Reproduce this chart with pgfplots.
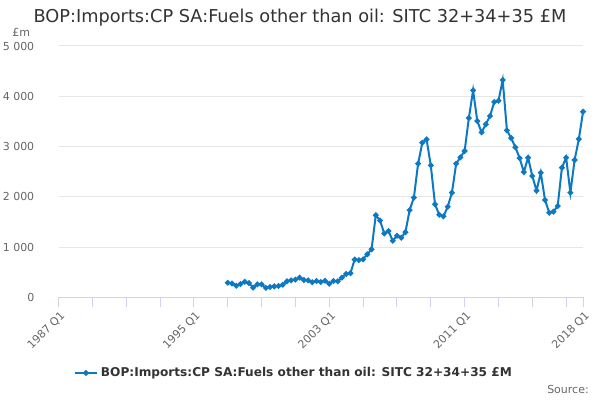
\documentclass[border=0pt]{standalone}
\usepackage{fontspec}
\setmainfont{DejaVu Sans}
\usepackage{pgfplots}
\pgfplotsset{compat=1.18}
\definecolor{lineblue}{RGB}{12,121,194}
\definecolor{gridgray}{HTML}{E6E6E6}
\definecolor{axisblue}{HTML}{CCD6EB}
\definecolor{labgray}{HTML}{666666}
\definecolor{titlegray}{HTML}{333333}
\begin{document}
\begin{tikzpicture}
\path[use as bounding box] (0,0) rectangle (450pt,300pt);
\begin{axis}[
  at={(43.9pt,77.0pt)}, anchor=south west,
  scale only axis, width=393.4pt, height=188.5pt,
  xmin=1987, xmax=2018, ymin=0, ymax=5000,
  axis lines*=left,
  y axis line style={draw=none},
  x axis line style={color=axisblue, line width=0.75pt},
  xtick={1987,1995,2003,2011,2018},
  xticklabels={1987 Q1,1995 Q1,2003 Q1,2011 Q1,2018 Q1},
  minor xtick={1989,1991,1993,1997,1999,2001,2005,2007,2009,2013,2015,2017},
  xtick style={color=axisblue, line width=0.75pt},
  minor x tick style={color=axisblue, line width=0.75pt},
  tick align=outside, major tick length=7.5pt, minor tick length=7.5pt,
  xticklabel style={rotate=45, anchor=north east, font=\fontsize{8.25}{10}\selectfont, text=labgray, inner sep=1pt, yshift=-1pt},
  ytick={0,1000,...,5000},
  yticklabels={0,1 000,2 000,3 000,4 000,5 000},
  ytick style={draw=none},
  yticklabel style={font=\fontsize{8.25}{10}\selectfont, text=labgray, anchor=east, inner sep=0pt, xshift=-10.5pt},
  ymajorgrids, grid style={color=gridgray, line width=0.75pt},
  legend style={at={(0.449,-0.301)}, anchor=center, draw=none, font=\bfseries\fontsize{9.1}{11}\selectfont, text=titlegray, legend cell align=left},
  clip=false,
]
\addplot[color=lineblue, line width=1.5pt, mark=*, mark size=1.3pt] coordinates {
(1997.00,290) (1997.25,275) (1997.50,230) (1997.75,265)
(1998.00,310) (1998.25,285) (1998.50,195) (1998.75,258)
(1999.00,258) (1999.25,188) (1999.50,205) (1999.75,218)
(2000.00,225) (2000.25,252) (2000.50,318) (2000.75,338)
(2001.00,352) (2001.25,392) (2001.50,345) (2001.75,338)
(2002.00,300) (2002.25,325) (2002.50,305) (2002.75,330)
(2003.00,272) (2003.25,325) (2003.50,320) (2003.75,392)
(2004.00,465) (2004.25,480) (2004.50,752) (2004.75,740)
(2005.00,756) (2005.25,856) (2005.50,955) (2005.75,1635)
(2006.00,1530) (2006.25,1270) (2006.50,1320) (2006.75,1125)
(2007.00,1225) (2007.25,1185) (2007.50,1295) (2007.75,1735)
(2008.00,1982) (2008.25,2659) (2008.50,3076) (2008.75,3143)
(2009.00,2625) (2009.25,1850) (2009.50,1644) (2009.75,1611)
(2010.00,1803) (2010.25,2082) (2010.50,2659) (2010.75,2785)
(2011.00,2911) (2011.25,3567) (2011.50,4117) (2011.75,3507)
(2012.00,3282) (2012.25,3441) (2012.50,3607) (2012.75,3885)
(2013.00,3912) (2013.25,4323) (2013.50,3322) (2013.75,3169)
(2014.00,2984) (2014.25,2771) (2014.50,2493) (2014.75,2778)
(2015.00,2413) (2015.25,2122) (2015.50,2480) (2015.75,1936)
(2016.00,1684) (2016.25,1704) (2016.50,1817) (2016.75,2579)
(2017.00,2778) (2017.25,2082) (2017.50,2732) (2017.75,3149)
(2018.00,3693)
};
\addlegendentry{BOP:Imports:CP SA:Fuels other than oil: SITC 32+34+35 £M}
\end{axis}
\node[anchor=center, text=titlegray, font=\fontsize{13.3}{15}\selectfont] at (225pt,286.5pt) {BOP:Imports:CP SA:Fuels other than oil: SITC 32+34+35 £M};
\node[anchor=west, text=labgray, font=\fontsize{8.25}{10}\selectfont, inner sep=0pt] at (9pt,276pt) {£m};
\node[anchor=east, text=labgray, font=\fontsize{8.25}{10}\selectfont, inner sep=0pt] at (441.75pt,8.25pt) {Source:};
\end{tikzpicture}
\end{document}
